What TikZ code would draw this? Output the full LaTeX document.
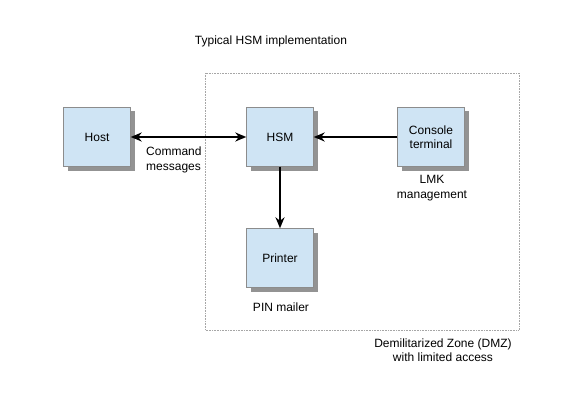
\documentclass[tikz,border=0pt]{standalone}
\usepackage{fontspec}
\setmainfont{Liberation Sans}
\usetikzlibrary{arrows.meta,shadows}

\begin{document}
\begin{tikzpicture}[
				x=1pt,y=-1pt,
				unit/.style={
					draw=gray!90,
					fill=boxblue,
					rectangle,
					align=center,
					minimum width=67pt,
					minimum height=59pt,
					font=\fontsize{12}{14}\selectfont,
					drop shadow={shadow xshift=4pt,shadow yshift=-4pt,fill=gray!85,opacity=1}
				},
				caption/.style={align=center,inner sep=0pt,font=\fontsize{12}{14.5}\selectfont},
				link/.style={line width=1.9pt,-{Stealth[length=11pt,width=9pt]}},
				biglink/.style={line width=1.9pt,{Stealth[length=11pt,width=9pt]}-{Stealth[length=11pt,width=9pt]}},
				zone/.style={draw=gray!70,densely dotted,line width=0.6pt}
				]
				\definecolor{boxblue}{RGB}{207,228,244}
				\useasboundingbox (0,0) rectangle (567,401);
				\draw[zone] (205,73) rectangle (519,330);
				
				\node[unit] (host) at (97,137) {Host};
				\node[unit] (hsm) at (280,137) {HSM};
				\node[unit] (console) at (431,137) {Console\\terminal};
				\node[unit] (printer) at (280,258) {Printer};
				
				\node[caption] (title) at (271,41) {Typical HSM implementation};
				\node[caption,align=left,anchor=west] (cmd) at (146,160) {Command\\messages};
				\node[caption] (lmk) at (432,188) {LMK\\management};
				\node[caption] (pin) at (281,307) {PIN mailer};
				\node[caption] (dmz) at (443,350) {Demilitarized Zone (DMZ)\\with limited access};
				
				\draw[biglink] (host) -- (hsm);
				\draw[link] (console) -- (hsm);
				\draw[link] (hsm) -- (printer);
			\end{tikzpicture}
\end{document}
